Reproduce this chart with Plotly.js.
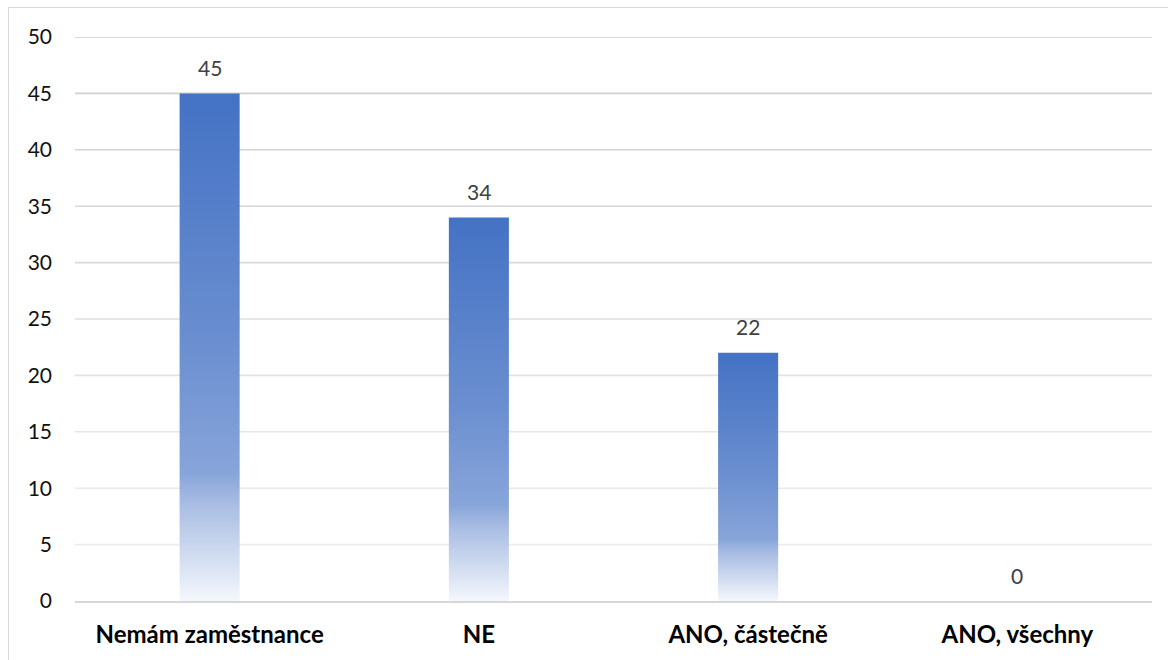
<!DOCTYPE html>
<html>
<head>
<meta charset="utf-8">
<script src="https://cdn.plot.ly/plotly-3.0.1.min.js"></script>
<style>
  html, body { margin: 0; padding: 0; background: #fff; }
  #frame { position: absolute; left: 8px; top: 7px; width: 1200px; height: 700px; border: 1px solid #D9D9D9; box-sizing: border-box; pointer-events: none; z-index: 5; }
  #chart { position: absolute; left: 0; top: 0; width: 1168px; height: 660px; }
</style>
</head>
<body>
<div id="chart"></div>
<div id="frame"></div>
<script>
const categories = ["Nemám zaměstnance", "NE", "ANO, částečně", "ANO, všechny"];
const values = [45, 34, 22, 0];
const yTicks = [0, 5, 10, 15, 20, 25, 30, 35, 40, 45, 50];

const FONT = "Lato, 'Open Sans', sans-serif";

const trace = {
  type: "bar",
  x: categories,
  y: values,
  marker: { color: "#4472C4", line: { width: 0 } },
  hoverinfo: "none"
};

// data labels above bars
const annotations = categories.map(function (c, i) {
  return {
    x: c, y: values[i], xref: "x", yref: "y",
    text: String(values[i]), showarrow: false,
    yanchor: "middle", yshift: 26,
    font: { family: FONT, size: 21, color: "#404040" }
  };
});

// gridlines fading from darker (top) to lighter (bottom)
function lerpGray(t) {
  const a = 0xCC, b = 0xF0;
  const v = Math.round(a + (b - a) * t);
  return "rgb(" + v + "," + v + "," + v + ")";
}
const shapes = yTicks.filter(function (v) { return v > 0; }).map(function (v) {
  return {
    type: "line", xref: "paper", yref: "y", x0: 0, x1: 1, y0: v, y1: v,
    layer: "below",
    line: { color: lerpGray(1 - v / 50), width: 1.6 }
  };
});

const layout = {
  width: 1168,
  height: 660,
  margin: { l: 75, r: 16, t: 37, b: 59 },
  paper_bgcolor: "#FFFFFF",
  plot_bgcolor: "#FFFFFF",
  showlegend: false,
  bargap: 0.777,
  font: { family: FONT, color: "#404040", size: 16 },
  annotations: annotations,
  shapes: shapes,
  xaxis: {
    type: "category",
    showgrid: false,
    showline: true,
    linecolor: "#D6D6D6",
    linewidth: 2,
    ticks: "",
    ticklabelstandoff: 11,
    tickfont: { family: FONT, size: 24, color: "#000000", weight: "bold" },
    fixedrange: true
  },
  yaxis: {
    range: [0, 50],
    tickvals: yTicks,
    ticktext: yTicks.map(String),
    showgrid: false,
    zeroline: false,
    showline: false,
    ticks: "",
    ticklabelstandoff: 22,
    tickfont: { family: FONT, size: 21, color: "#111111" },
    fixedrange: true
  }
};

Plotly.newPlot("chart", [trace], layout, { displayModeBar: false, staticPlot: true }).then(function (gd) {
  const svg = gd.querySelector("svg.main-svg");
  const ns = "http://www.w3.org/2000/svg";
  let defs = svg.querySelector("defs");
  if (!defs) { defs = document.createElementNS(ns, "defs"); svg.insertBefore(defs, svg.firstChild); }
  const grad = document.createElementNS(ns, "linearGradient");
  grad.setAttribute("id", "barGrad");
  grad.setAttribute("x1", "0"); grad.setAttribute("y1", "0");
  grad.setAttribute("x2", "0"); grad.setAttribute("y2", "1");
  const stops = [[0, "#4472C4"], [0.5, "#6B8FD0"], [0.75, "#88A5DA"], [0.81, "#A9BDE3"], [1, "#F4F7FC"]];
  stops.forEach(function (s) {
    const st = document.createElementNS(ns, "stop");
    st.setAttribute("offset", s[0]);
    st.setAttribute("stop-color", s[1]);
    grad.appendChild(st);
  });
  defs.appendChild(grad);
  gd.querySelectorAll(".barlayer .point path").forEach(function (p) {
    p.style.fill = "url(#barGrad)";
  });
});
</script>
</body>
</html>
